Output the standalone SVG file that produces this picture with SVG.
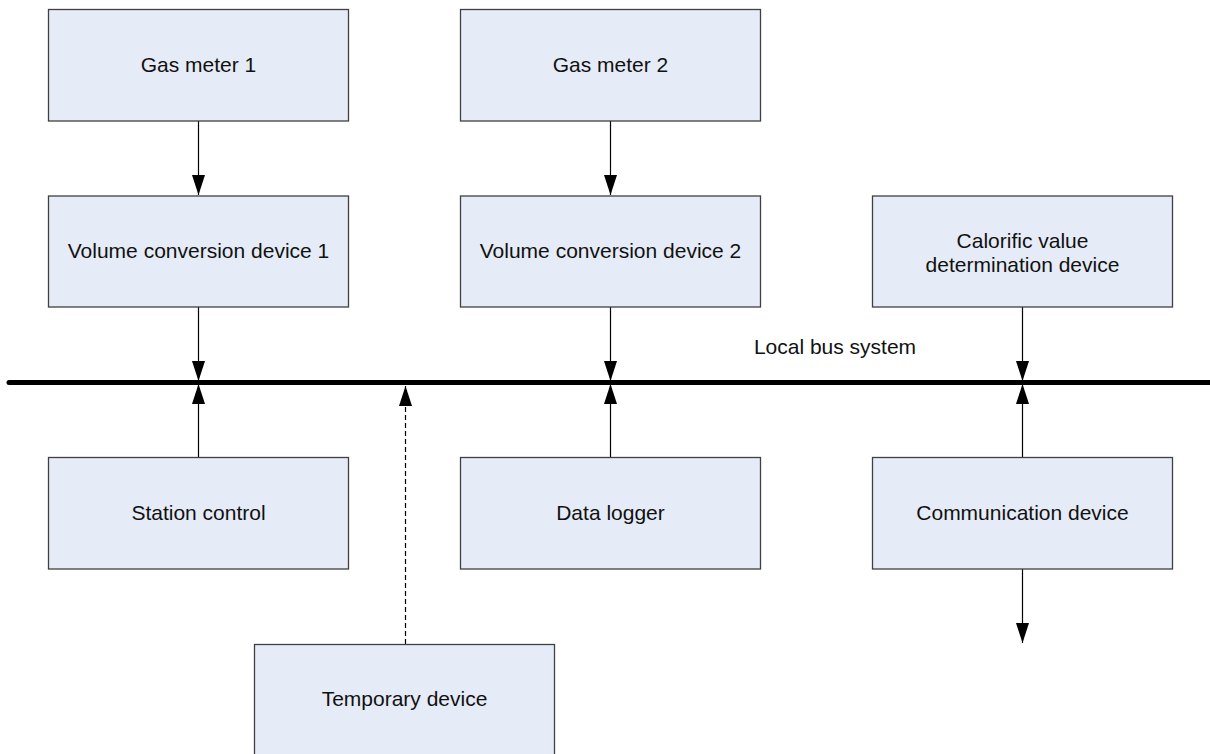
<svg xmlns="http://www.w3.org/2000/svg" width="1210" height="754" viewBox="0 0 1210 754">
<defs>
<style>
.box{fill:#E6ECF7;stroke:#404040;stroke-width:1.3}
.t{font-family:"Liberation Sans",Arial,sans-serif;font-size:21px;fill:#111;text-anchor:middle}
.c{stroke:#000;stroke-width:1.2;fill:none}
.d{stroke:#000;stroke-width:1.2;fill:none;stroke-dasharray:5,3}
</style>
<marker id="ah" viewBox="0 0 20 13" refX="20" refY="6.5" markerWidth="20" markerHeight="13" markerUnits="userSpaceOnUse" orient="auto">
<path d="M0,0 L20,6.5 L0,13 Z" fill="#000"/>
</marker>
</defs>
<rect width="1210" height="754" fill="#fff"/>
<g id="connectors">
<line x1="9" y1="382.5" x2="1215" y2="382.5" stroke="#000" stroke-width="5" stroke-linecap="round"/>
<line class="c" x1="198.5" y1="121" x2="198.5" y2="195" marker-end="url(#ah)"/>
<line class="c" x1="610.5" y1="121" x2="610.5" y2="195" marker-end="url(#ah)"/>
<line class="c" x1="198.5" y1="307" x2="198.5" y2="381" marker-end="url(#ah)"/>
<line class="c" x1="610.5" y1="307" x2="610.5" y2="381" marker-end="url(#ah)"/>
<line class="c" x1="1022.5" y1="307" x2="1022.5" y2="381" marker-end="url(#ah)"/>
<line class="c" x1="198.5" y1="457" x2="198.5" y2="384" marker-end="url(#ah)"/>
<line class="c" x1="610.5" y1="457" x2="610.5" y2="384" marker-end="url(#ah)"/>
<line class="c" x1="1022.5" y1="457" x2="1022.5" y2="384" marker-end="url(#ah)"/>
<line class="d" x1="405.5" y1="644" x2="405.5" y2="386" marker-end="url(#ah)"/>
<line class="c" x1="1022.5" y1="569" x2="1022.5" y2="643" marker-end="url(#ah)"/>
</g>
<text class="t" x="835" y="354">Local bus system</text>
<g id="gas1"><rect class="box" x="48.5" y="9.5" width="300" height="111.5"/><text class="t" x="198.5" y="72">Gas meter 1</text></g>
<g id="gas2"><rect class="box" x="460.5" y="9.5" width="300" height="111.5"/><text class="t" x="610.5" y="72">Gas meter 2</text></g>
<g id="vcd1"><rect class="box" x="48.5" y="196" width="300" height="111"/><text class="t" x="198.5" y="258">Volume conversion device 1</text></g>
<g id="vcd2"><rect class="box" x="460.5" y="196" width="300" height="111"/><text class="t" x="610.5" y="258">Volume conversion device 2</text></g>
<g id="calorific"><rect class="box" x="872.5" y="196" width="300" height="111"/><text class="t" x="1022.5" y="248">Calorific value</text><text class="t" x="1022.5" y="272">determination device</text></g>
<g id="station"><rect class="box" x="48.5" y="457.5" width="300" height="111.5"/><text class="t" x="198.5" y="520">Station control</text></g>
<g id="logger"><rect class="box" x="460.5" y="457.5" width="300" height="111.5"/><text class="t" x="610.5" y="520">Data logger</text></g>
<g id="comm"><rect class="box" x="872.5" y="457.5" width="300" height="111.5"/><text class="t" x="1022.5" y="520">Communication device</text></g>
<g id="temp"><rect class="box" x="254.5" y="644.5" width="300" height="112"/><text class="t" x="404.5" y="706">Temporary device</text></g>
</svg>
